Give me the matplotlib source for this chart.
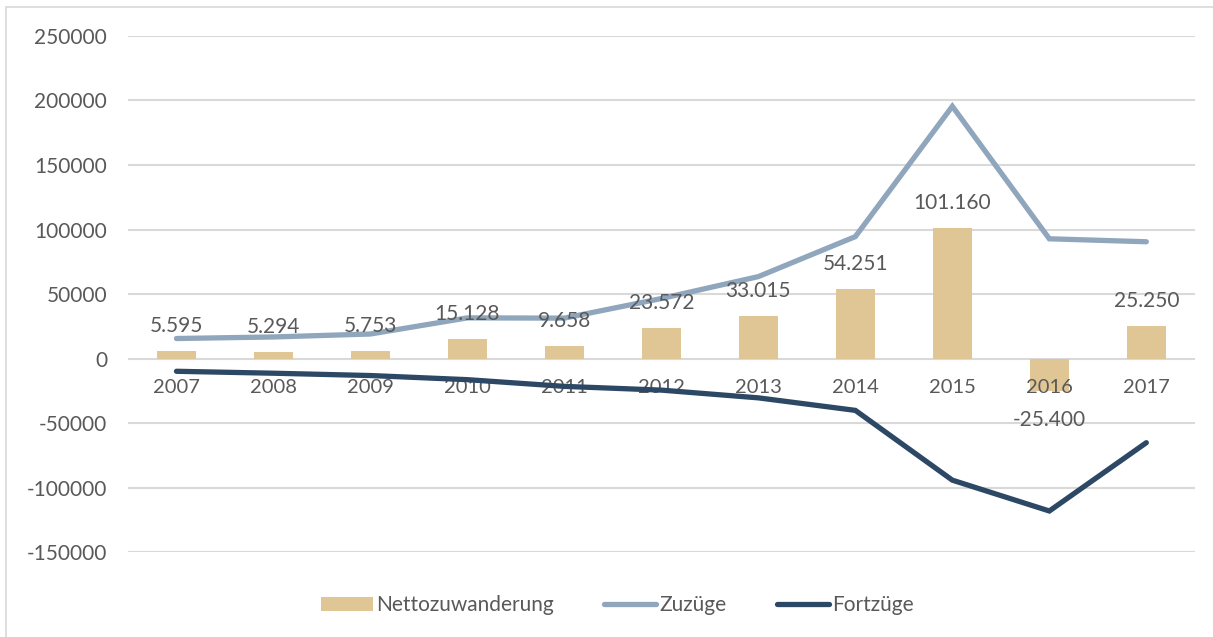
import matplotlib
matplotlib.use("Agg")
import matplotlib.pyplot as plt
import matplotlib.patches as mpatches
import numpy as np

plt.rcParams['font.family'] = ['Lato', 'DejaVu Sans']

years = ['2007', '2008', '2009', '2010', '2011', '2012',
         '2013', '2014', '2015', '2016', '2017']
netto = [5595, 5294, 5753, 15128, 9658, 23572,
         33015, 54251, 101160, -25400, 25250]
zuzuege = [15500, 16700, 19000, 31500, 31300, 46500,
           63500, 94500, 195500, 92800, 90500]
fortzuege = [-9900, -11400, -13200, -16400, -21600, -24500,
             -30500, -40200, -94300, -118200, -65250]
y_ticks = [-150000, -100000, -50000, 0, 50000, 100000, 150000, 200000, 250000]

BAR_COLOR = '#E0C595'
ZU_COLOR = '#8FA6BC'
FORT_COLOR = '#2D4864'
TEXT_COLOR = '#595959'
GRID_COLOR = '#D9D9D9'


def fmt_de(v):
    return f"{v:,}".replace(',', '.')


def main():
    fig = plt.figure(figsize=(12.13, 6.37), dpi=100)
    ax = fig.add_axes([0.1055, 0.1334, 0.8795, 0.8101])

    x = np.arange(len(years))
    for t in y_ticks:
        ax.axhline(t, color=GRID_COLOR, lw=1.5, zorder=0.5)
    bar = ax.bar(x, netto, width=0.4, color=BAR_COLOR, zorder=2)
    l1, = ax.plot(x, zuzuege, color=ZU_COLOR, lw=3.8, solid_capstyle='round',
                  solid_joinstyle='miter', zorder=3)
    l2, = ax.plot(x, fortzuege, color=FORT_COLOR, lw=3.8, solid_capstyle='round',
                  solid_joinstyle='miter', zorder=3)

    for xi, v in zip(x, netto):
        off = 18 if v >= 0 else -21
        ax.annotate(fmt_de(v), (xi, v), xytext=(0, off), textcoords='offset points',
                    ha='center', va='center', fontsize=15, color=TEXT_COLOR, zorder=4)

    ax.set_xlim(-0.5, len(years) - 0.5)
    ax.set_ylim(-150000, 250000)
    ax.set_yticks(y_ticks)
    ax.set_yticklabels([str(t) for t in y_ticks])
    ax.set_xticks(x)
    ax.set_xticklabels(years)

    for s in ['top', 'right', 'left', 'bottom']:
        ax.spines[s].set_visible(False)
    ax.xaxis.set_zorder(2.5)
    ax.tick_params(axis='x', length=0, pad=15, labelsize=14.5, labelcolor=TEXT_COLOR)
    ax.tick_params(axis='y', length=0, pad=15, labelsize=15, labelcolor=TEXT_COLOR)
    # year labels sit just under the zero line
    ax.spines['bottom'].set_position(('data', 0))

    fig.legend([bar, l1, l2], ['Nettozuwanderung', 'Zuzüge', 'Fortzüge'],
               loc='center', bbox_to_anchor=(0.509, 0.05), ncol=3,
               frameon=False, fontsize=15, labelcolor=TEXT_COLOR,
               handlelength=2.5, handleheight=0.7, handletextpad=0.15, columnspacing=2.4)

    # chart area border
    fig.patches.append(mpatches.Rectangle((6 / 1213, -0.05), 1.1, 1 - 7 / 637 + 0.05,
                                          transform=fig.transFigure, fill=False,
                                          edgecolor=GRID_COLOR, lw=1.2))

    fig.savefig('out.png', dpi=100)


if __name__ == "__main__":
    main()
